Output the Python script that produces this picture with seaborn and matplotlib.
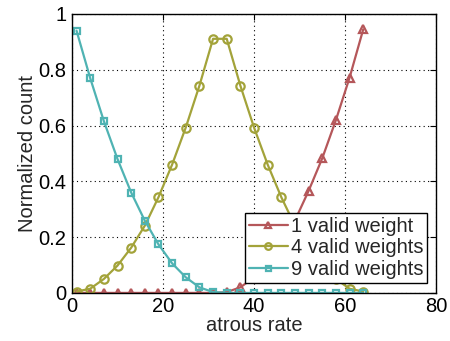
import matplotlib
matplotlib.use("Agg")
import matplotlib.pyplot as plt
import seaborn as sns
import numpy as np
import pandas as pd

rates = [1, 4, 7, 10, 13, 16, 19, 22, 25, 28, 31, 34, 37, 40, 43, 46, 49, 52, 55, 58, 61, 64]
one_valid = [0, 0, 0, 0, 0, 0, 0, 0, 0, 0, 0, 0.003, 0.02, 0.056, 0.106, 0.174, 0.26, 0.366, 0.483, 0.62, 0.772, 0.945]
four_valid = [0.005, 0.015, 0.05, 0.098, 0.162, 0.241, 0.343, 0.46, 0.593, 0.743, 0.911, 0.911,
              0.743, 0.593, 0.46, 0.343, 0.241, 0.162, 0.098, 0.05, 0.015, 0.005]
nine_valid = [0.94, 0.77, 0.616, 0.48, 0.36, 0.259, 0.174, 0.106, 0.056, 0.02, 0.003, 0, 0, 0, 0, 0, 0, 0, 0, 0, 0, 0]
labels = ["1 valid weight", "4 valid weights", "9 valid weights"]
colors = ["#b5575a", "#a3a33a", "#4fb3b3"]
markers = ["^", "o", "s"]
msizes = [6, 6, 4.5]
xticks = [0, 20, 40, 60, 80]
yticks = [0, 0.2, 0.4, 0.6, 0.8, 1]
ytick_labels = ["0", "0.2", "0.4", "0.6", "0.8", "1"]

sns.set_style("white")
plt.rcParams['font.family'] = ['Liberation Sans', 'DejaVu Sans']

fig = plt.figure(figsize=(4.5, 3.41), dpi=100)
ax = fig.add_axes([0.16, 0.141, 0.809, 0.818])

series = [one_valid, four_valid, nine_valid]
for vals, lab, c, m, ms in zip(series, labels, colors, markers, msizes):
    df = pd.DataFrame({"rate": rates, "count": vals})
    sns.lineplot(data=df, x="rate", y="count", ax=ax, color=c, marker=m,
                 markersize=ms, markerfacecolor="none", markeredgecolor=c,
                 markeredgewidth=1.6, linewidth=1.6, label=lab)

ax.set_xlim(0, 80)
ax.set_ylim(0, 1)
ax.set_xticks(xticks)
ax.set_yticks(yticks)
ax.set_yticklabels(ytick_labels)
ax.grid(True, linestyle=(0, (1, 3)), color="black", linewidth=0.8)
ax.tick_params(direction="in", top=True, right=True, length=4, width=0.8,
               labelsize=14.5, colors="black")
ax.tick_params(axis="x", pad=3)
ax.tick_params(axis="y", pad=4)
for sp in ax.spines.values():
    sp.set_visible(True)
    sp.set_color("black")
    sp.set_linewidth(1.0)
ax.set_xlabel("atrous rate", fontsize=14.5, labelpad=0)
ax.set_ylabel("Normalized count", fontsize=14.5, labelpad=1)

leg = ax.legend(loc="lower right", fontsize=14.5, frameon=True, fancybox=False,
                handlelength=1.9, handletextpad=0.15, borderpad=0.2,
                labelspacing=0.12, borderaxespad=0.3, bbox_to_anchor=(0.992, 0.015),
                markerscale=0.8)
leg.get_frame().set_edgecolor("black")
leg.get_frame().set_linewidth(1.0)
leg.get_frame().set_alpha(1)

fig.savefig("out.png", dpi=100)
